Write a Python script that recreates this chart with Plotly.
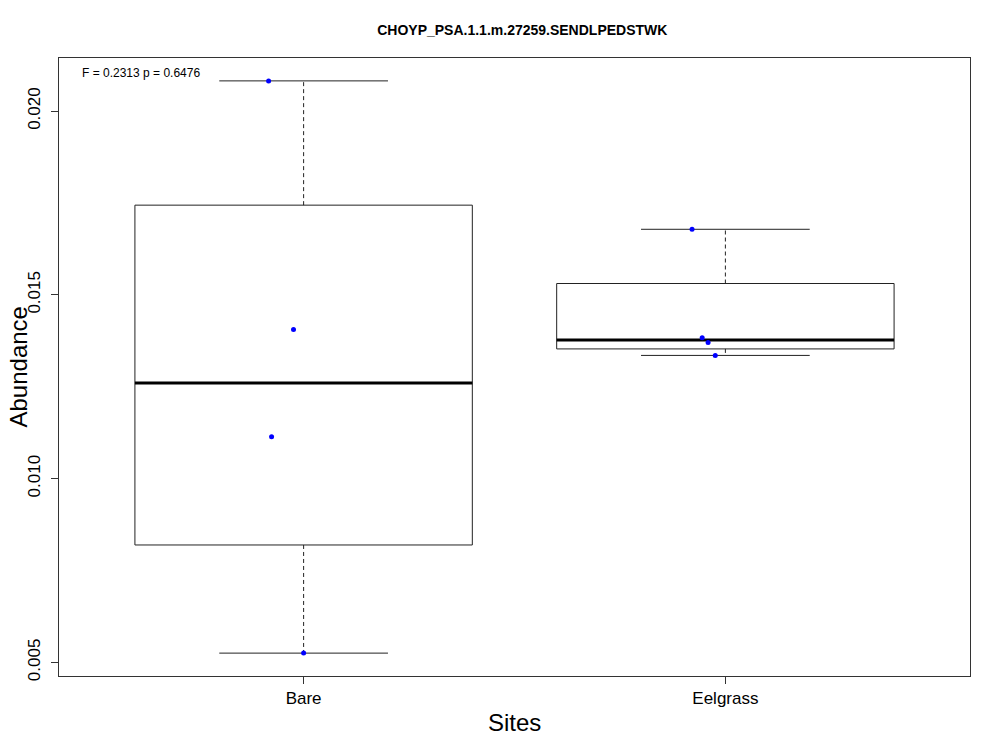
import math
import plotly.graph_objects as go

# ---- data ----
sites = ["Bare", "Eelgrass"]
bare_values = [0.020823, 0.014061, 0.011138, 0.005253]
eelgrass_values = [0.016785, 0.013835, 0.013707, 0.013353]
bare_jitter = [-0.083, -0.024, -0.076, 0.0]
eelgrass_jitter = [-0.079, -0.055, -0.041, -0.024]
y_tick_vals = [0.005, 0.010, 0.015, 0.020]
y_tick_text = ["0.005", "0.010", "0.015", "0.020"]
stat_text = "F = 0.2313 p = 0.6476"
title_text = "CHOYP_PSA.1.1.m.27259.SENDLPEDSTWK"
x_title = "Sites"
y_title = "Abundance"

groups = [bare_values, eelgrass_values]
jitters = [bare_jitter, eelgrass_jitter]

FONT = "Liberation Sans, Arial, Helvetica, sans-serif"
OFF = 8  # page body margin offset


def fivenum(v):
    x = sorted(v)
    n = len(x)
    n4 = math.floor((n + 3) / 2) / 2
    d = [1, n4, (n + 1) / 2, n + 1 - n4, n]
    return [0.5 * (x[math.floor(di) - 1] + x[math.ceil(di) - 1]) for di in d]


fig = go.Figure()
box_half = 0.4
cap_half = 0.2

for i, vals in enumerate(groups):
    pos = i + 1
    lo, q1, med, q3, hi = fivenum(vals)
    iqr = q3 - q1
    lw = min(v for v in vals if v >= q1 - 1.5 * iqr)
    uw = max(v for v in vals if v <= q3 + 1.5 * iqr)
    # box
    fig.add_trace(go.Scatter(
        x=[pos - box_half, pos + box_half, pos + box_half, pos - box_half, pos - box_half],
        y=[q1, q1, q3, q3, q1], mode="lines",
        line=dict(color="#222222", width=1), hoverinfo="skip", showlegend=False))
    # whiskers (dashed)
    fig.add_trace(go.Scatter(x=[pos, pos], y=[q3, uw], mode="lines",
                             line=dict(color="#222222", width=1, dash="4px,3px"),
                             hoverinfo="skip", showlegend=False))
    fig.add_trace(go.Scatter(x=[pos, pos], y=[q1, lw], mode="lines",
                             line=dict(color="#222222", width=1, dash="4px,3px"),
                             hoverinfo="skip", showlegend=False))
    # caps
    for w in (uw, lw):
        fig.add_trace(go.Scatter(x=[pos - cap_half, pos + cap_half], y=[w, w], mode="lines",
                                 line=dict(color="#222222", width=1),
                                 hoverinfo="skip", showlegend=False))
    # median
    fig.add_trace(go.Scatter(x=[pos - box_half, pos + box_half], y=[med, med], mode="lines",
                             line=dict(color="#000000", width=3),
                             hoverinfo="skip", showlegend=False))

for i, vals in enumerate(groups):
    pos = i + 1
    fig.add_trace(go.Scatter(
        x=[pos + j for j in jitters[i]], y=vals, mode="markers",
        marker=dict(color="#0000FF", size=5, line=dict(width=0)),
        showlegend=False, name=sites[i]))

all_vals = bare_values + eelgrass_values
ymin, ymax = min(all_vals), max(all_vals)
pad = 0.04 * (ymax - ymin)

fig.update_layout(
    width=1000, height=750,
    margin=dict(l=59 - OFF, r=30 + OFF, t=58 - OFF, b=74 + OFF),
    paper_bgcolor="white", plot_bgcolor="white",
    font=dict(family=FONT, color="black"),
    title=dict(text="<b>" + title_text + "</b>", x=0.5143, xanchor="center",
               y=1 - (30 - OFF) / 750, yanchor="middle", font=dict(size=14, family=FONT)),
    xaxis=dict(range=[0.42, 2.58], tickvals=[1, 2], ticktext=sites,
               showgrid=False, zeroline=False, showline=True, mirror=True,
               linecolor="#333333", linewidth=1, ticks="outside", ticklen=7,
               tickcolor="#333333", tickfont=dict(size=17, family=FONT)),
    yaxis=dict(range=[ymin - pad, ymax + pad], tickvals=y_tick_vals, ticktext=y_tick_text,
               tickangle=-90, showgrid=False, zeroline=False, showline=True, mirror=True,
               linecolor="#333333", linewidth=1, ticks="outside", ticklen=7,
               ticklabelstandoff=4,
               tickcolor="#333333", tickfont=dict(size=17, family=FONT)),
    annotations=[
        dict(text=stat_text, xref="paper", yref="paper", x=(80 - 59) / 911,
             y=(676 - 73) / 618, xanchor="left", yanchor="middle", showarrow=False,
             font=dict(size=12, family=FONT)),
        dict(text=x_title, xref="paper", yref="paper", x=0.5, y=(676 - 722) / 618,
             xanchor="center", yanchor="middle", showarrow=False,
             font=dict(size=24, family=FONT)),
        dict(text=y_title, xref="paper", yref="paper", x=(17.5 - 59) / 911, y=0.5,
             xanchor="center", yanchor="middle", showarrow=False, textangle=-90,
             font=dict(size=24, family=FONT)),
    ],
)

fig.write_html("out.html")
